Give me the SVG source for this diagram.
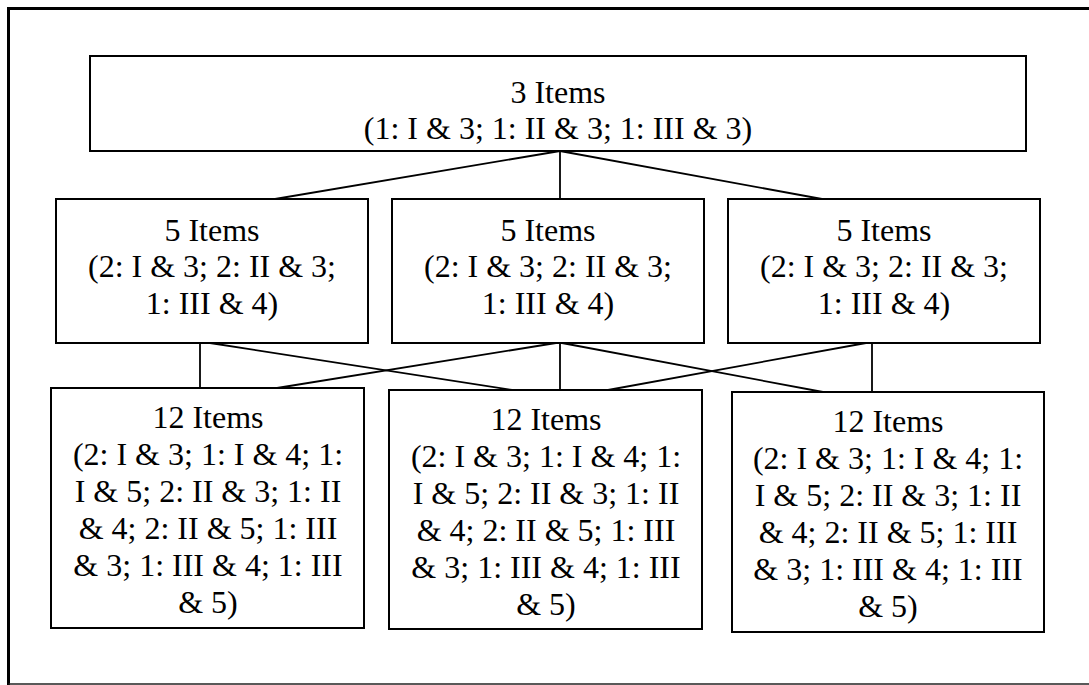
<svg xmlns="http://www.w3.org/2000/svg" width="1089" height="685" viewBox="0 0 1089 685">
<style>
.box{fill:#fff;stroke:#000;stroke-width:2}
.t{font-size:32px;fill:#000;text-anchor:middle}
.c{stroke:#000;stroke-width:1.8;fill:none}
</style>
<rect x="0" y="0" width="1089" height="685" fill="#fff"/>
<g id="frame">
<line x1="8.5" y1="8.5" x2="1089" y2="8.5" stroke="#000" stroke-width="3"/>
<line x1="8.5" y1="7" x2="8.5" y2="685" stroke="#000" stroke-width="3"/>
<line x1="8.5" y1="684" x2="1089" y2="684" stroke="#222" stroke-width="1.5"/>
</g>
<g id="connectors">
<line class="c" x1="560" y1="151" x2="275" y2="199"/>
<line class="c" x1="560" y1="151" x2="560" y2="199"/>
<line class="c" x1="560" y1="151" x2="822" y2="199"/>
<line class="c" x1="200" y1="343" x2="200" y2="388"/>
<line class="c" x1="210" y1="343" x2="512" y2="390"/>
<line class="c" x1="556" y1="343" x2="277" y2="388"/>
<line class="c" x1="560" y1="343" x2="560" y2="390"/>
<line class="c" x1="562" y1="343" x2="823" y2="392"/>
<line class="c" x1="872" y1="343" x2="872" y2="392"/>
<line class="c" x1="866" y1="343" x2="608" y2="390"/>
</g>
<g font-family="'Liberation Serif', 'Times New Roman', Times, serif">
<g id="top">
<rect class="box" x="90" y="56" width="936" height="95"/>
<text class="t" x="558" y="103">3 Items</text>
<text class="t" x="558" y="139">(1: I &amp; 3; 1: II &amp; 3; 1: III &amp; 3)</text>
</g>
<g id="mid1">
<rect class="box" x="56" y="199" width="312" height="144"/>
<text class="t" x="212" y="241">5 Items</text>
<text class="t" x="212" y="277">(2: I &amp; 3; 2: II &amp; 3;</text>
<text class="t" x="212" y="314">1: III &amp; 4)</text>
</g>
<g id="mid2">
<rect class="box" x="392" y="199" width="312" height="144"/>
<text class="t" x="548" y="241">5 Items</text>
<text class="t" x="548" y="277">(2: I &amp; 3; 2: II &amp; 3;</text>
<text class="t" x="548" y="314">1: III &amp; 4)</text>
</g>
<g id="mid3">
<rect class="box" x="728" y="199" width="312" height="144"/>
<text class="t" x="884" y="241">5 Items</text>
<text class="t" x="884" y="277">(2: I &amp; 3; 2: II &amp; 3;</text>
<text class="t" x="884" y="314">1: III &amp; 4)</text>
</g>
<g id="bot1">
<rect class="box" x="51" y="388" width="313" height="240"/>
<text class="t" x="208" y="428">12 Items</text>
<text class="t" x="208" y="465">(2: I &amp; 3; 1: I &amp; 4; 1:</text>
<text class="t" x="208" y="502">I &amp; 5; 2: II &amp; 3; 1: II</text>
<text class="t" x="208" y="539">&amp; 4; 2: II &amp; 5; 1: III</text>
<text class="t" x="208" y="576">&amp; 3; 1: III &amp; 4; 1: III</text>
<text class="t" x="208" y="613">&amp; 5)</text>
</g>
<g id="bot2">
<rect class="box" x="389" y="390" width="313" height="239"/>
<text class="t" x="546" y="430">12 Items</text>
<text class="t" x="546" y="467">(2: I &amp; 3; 1: I &amp; 4; 1:</text>
<text class="t" x="546" y="504">I &amp; 5; 2: II &amp; 3; 1: II</text>
<text class="t" x="546" y="541">&amp; 4; 2: II &amp; 5; 1: III</text>
<text class="t" x="546" y="578">&amp; 3; 1: III &amp; 4; 1: III</text>
<text class="t" x="546" y="615">&amp; 5)</text>
</g>
<g id="bot3">
<rect class="box" x="732" y="392" width="312" height="240"/>
<text class="t" x="888" y="432">12 Items</text>
<text class="t" x="888" y="469">(2: I &amp; 3; 1: I &amp; 4; 1:</text>
<text class="t" x="888" y="506">I &amp; 5; 2: II &amp; 3; 1: II</text>
<text class="t" x="888" y="543">&amp; 4; 2: II &amp; 5; 1: III</text>
<text class="t" x="888" y="580">&amp; 3; 1: III &amp; 4; 1: III</text>
<text class="t" x="888" y="617">&amp; 5)</text>
</g>
</g>
</svg>
